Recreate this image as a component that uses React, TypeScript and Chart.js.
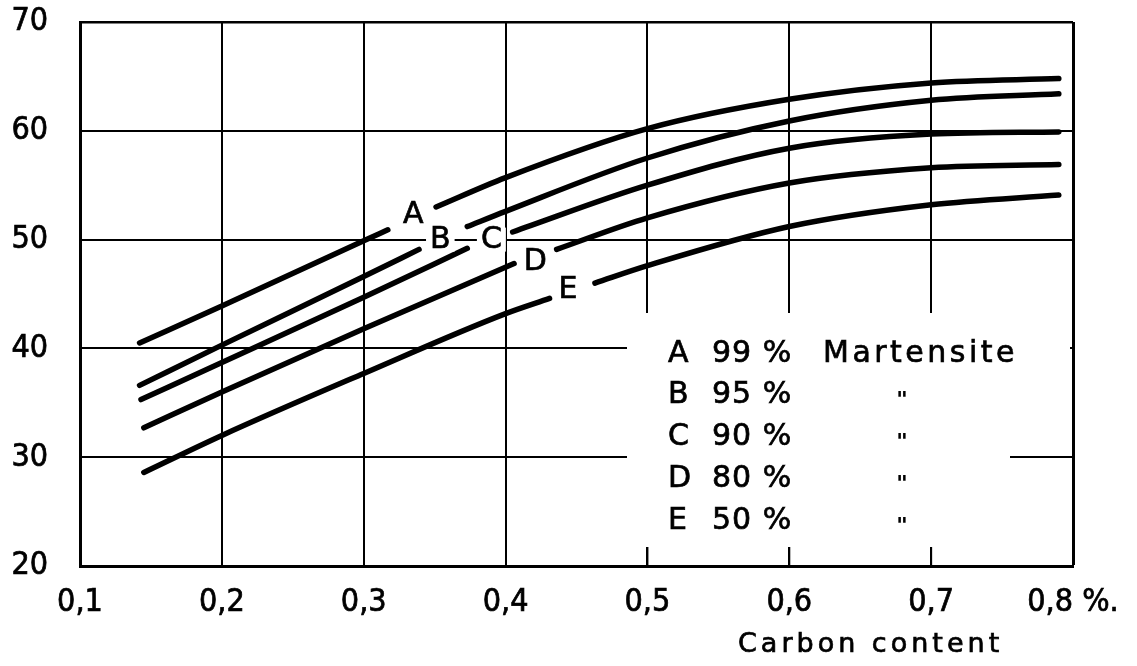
import React, { useEffect, useRef } from "react";
import { Chart, registerables } from "chart.js";

Chart.register(...registerables);

// ---- axis ticks ----
const xTicks = [0.1, 0.2, 0.3, 0.4, 0.5, 0.6, 0.7, 0.8];
const xTickLabels = ["0,1", "0,2", "0,3", "0,4", "0,5", "0,6", "0,7", "0,8 %."];
const yTicks = [20, 30, 40, 50, 60, 70];
const yTickLabels = ["20", "30", "40", "50", "60", "70"];

// ---- curves (null = gap where the letter sits) ----
const curveA_x = [0.142, 0.2, 0.3, 0.317, 0.334, 0.351, 0.4, 0.5, 0.6, 0.7, 0.79];
const curveA_y = [40.5, 43.9, 49.9, 50.9, null, 53.0, 55.7, 60.2, 62.9, 64.4, 64.8];
const curveB_x = [0.142, 0.2, 0.3, 0.339, 0.356, 0.373, 0.4, 0.5, 0.6, 0.7, 0.79];
const curveB_y = [36.6, 40.3, 46.6, 49.1, null, 51.2, 52.6, 57.5, 60.9, 62.8, 63.4];
const curveC_x = [0.143, 0.2, 0.3, 0.373, 0.389, 0.405, 0.5, 0.6, 0.7, 0.79];
const curveC_y = [35.3, 38.7, 44.7, 49.2, null, 50.7, 55.0, 58.4, 59.7, 59.9];
const curveD_x = [0.145, 0.2, 0.3, 0.406, 0.42, 0.436, 0.5, 0.6, 0.7, 0.79];
const curveD_y = [32.7, 36.0, 41.8, 47.8, null, 49.1, 52.0, 55.2, 56.6, 56.9];
const curveE_x = [0.145, 0.2, 0.3, 0.4, 0.431, 0.447, 0.463, 0.5, 0.6, 0.7, 0.79];
const curveE_y = [28.6, 32.0, 37.7, 43.2, 44.6, null, 46.0, 47.6, 51.2, 53.2, 54.1];

// ---- curve letters ----
const curveLetters = ["A", "B", "C", "D", "E"];
const letterX = [0.335, 0.354, 0.39, 0.421, 0.444];
const letterY = [52.3, 50.0, 50.0, 48.0, 45.4];

// ---- legend text ----
const legendPct = ["99 %", "95 %", "90 %", "80 %", "50 %"];
const legendPhase = ["Martensite", "\"", "\"", "\"", "\""];
const axisTitle = "Carbon content";

const TICK_FONT = '"DejaVu Sans Condensed", "DejaVu Sans", sans-serif';
const TEXT_FONT = '"DejaVu Sans", sans-serif';
const INK = "#000";
const TEXT_STROKE = 0.7;

const toPoints = (xs: number[], ys: (number | null)[]) =>
  xs.map((x, i) => ({ x, y: ys[i] }));

const curves = [
  toPoints(curveA_x, curveA_y),
  toPoints(curveB_x, curveB_y),
  toPoints(curveC_x, curveC_y),
  toPoints(curveD_x, curveD_y),
  toPoints(curveE_x, curveE_y),
];

function inkText(ctx: CanvasRenderingContext2D, t: string, x: number, y: number) {
  ctx.fillText(t, x, y);
  ctx.strokeText(t, x, y);
}

const decorPlugin = {
  id: "decor",
  beforeDatasetsDraw(chart: any) {
    const { ctx, chartArea: a, scales } = chart;
    const xs = scales.x;
    // white legend field that interrupts the grid
    const left = 627;
    const yTop = 313;
    const yMid = 420;
    const yBot = 547;
    ctx.save();
    ctx.fillStyle = "#fff";
    ctx.fillRect(left, yTop, a.right - 3 - left, yMid - yTop);
    ctx.fillRect(left, yMid, 1010 - left, yBot - yMid);
    // remaining short tick stubs at the bottom
    ctx.strokeStyle = "#000";
    ctx.lineWidth = 2;
    for (const v of xTicks) {
      const px = xs.getPixelForValue(v);
      if (px > left && px < 1010) {
        ctx.beginPath();
        ctx.moveTo(px, yBot);
        ctx.lineTo(px, a.bottom);
        ctx.stroke();
      }
    }
    ctx.restore();
  },
  afterDatasetsDraw(chart: any) {
    const { ctx, scales } = chart;
    const xs = scales.x;
    const ys = scales.y;
    ctx.save();
    ctx.strokeStyle = INK;
    ctx.lineWidth = TEXT_STROKE;
    // curve letters with white background
    ctx.font = `30px ${TEXT_FONT}`;
    ctx.textAlign = "center";
    ctx.textBaseline = "middle";
    curveLetters.forEach((t, i) => {
      const px = xs.getPixelForValue(letterX[i]);
      const py = ys.getPixelForValue(letterY[i]);
      const w = ctx.measureText(t).width;
      ctx.fillStyle = "#fff";
      ctx.fillRect(px - w / 2 - 4, py - 12, w + 8, 24);
      ctx.fillStyle = INK;
      inkText(ctx, t, px, py + 1);
    });

    // legend block
    ctx.textAlign = "left";
    const rowY0 = 354;
    const rowStep = 41.7;
    curveLetters.forEach((t, i) => {
      const y = rowY0 + i * rowStep;
      ctx.font = `30px ${TEXT_FONT}`;
      ctx.fillStyle = INK;
      (ctx as any).letterSpacing = "0px";
      inkText(ctx, t, 668, y);
      (ctx as any).letterSpacing = "1px";
      inkText(ctx, legendPct[i], 712, y);
      if (i === 0) {
        (ctx as any).letterSpacing = "3.5px";
        inkText(ctx, legendPhase[i], 823, y);
      } else {
        (ctx as any).letterSpacing = "0px";
        ctx.font = `bold italic 22px ${TEXT_FONT}`;
        ctx.textAlign = "center";
        ctx.fillText(legendPhase[i], 902, y + 6);
        ctx.textAlign = "left";
      }
    });

    // axis title
    ctx.font = `27px ${TEXT_FONT}`;
    (ctx as any).letterSpacing = "4px";
    ctx.textBaseline = "middle";
    inkText(ctx, axisTitle, 738, 645);
    ctx.restore();
  },
};

export default function App() {
  const ref = useRef<HTMLCanvasElement | null>(null);

  useEffect(() => {
    if (!ref.current) return;
    const chart = new Chart(ref.current, {
      type: "line",
      data: {
        datasets: curves.map((pts, i) => ({
          label: curveLetters[i],
          data: pts as any,
          borderColor: "#000",
          borderWidth: 5.5,
          borderCapStyle: "round",
          borderJoinStyle: "round",
          pointRadius: 0,
          fill: false,
          spanGaps: false,
          cubicInterpolationMode: "monotone",
        })),
      },
      options: {
        responsive: false,
        animation: false,
        events: [],
        layout: { padding: { left: 0, right: 64, top: 22, bottom: 0 } },
        plugins: {
          legend: { display: false },
          tooltip: { enabled: false },
          title: { display: false },
        },
        scales: {
          x: {
            type: "linear",
            min: 0.1,
            max: 0.8,
            afterBuildTicks: (s: any) => {
              s.ticks = xTicks.map((v) => ({ value: v }));
            },
            afterFit: (s: any) => {
              s.height = 100;
              s.paddingLeft = 0;
              s.paddingRight = 0;
            },
            ticks: {
              autoSkip: false,
              maxRotation: 0,
              padding: 17,
              color: INK,
              textStrokeColor: INK,
              textStrokeWidth: TEXT_STROKE,
              font: { family: TICK_FONT, size: 32 },
              callback: (_v: any, i: number) => xTickLabels[i],
            },
            grid: {
              color: "#000",
              drawTicks: false,
              lineWidth: (c: any) => (c.index === xTicks.length - 1 ? 3 : 2),
            },
            border: { display: true, color: "#000", width: 3 },
          },
          y: {
            type: "linear",
            min: 20,
            max: 70,
            afterBuildTicks: (s: any) => {
              s.ticks = yTicks.map((v) => ({ value: v }));
            },
            afterFit: (s: any) => {
              s.width = 80;
              s.paddingTop = 0;
              s.paddingBottom = 0;
            },
            ticks: {
              padding: 32,
              color: INK,
              textStrokeColor: INK,
              textStrokeWidth: TEXT_STROKE,
              font: { family: TICK_FONT, size: 32 },
              callback: (_v: any, i: number) => yTickLabels[i],
            },
            grid: {
              color: "#000",
              drawTicks: false,
              lineWidth: (c: any) => (c.index === yTicks.length - 1 ? 2.5 : 2),
            },
            border: { display: true, color: "#000", width: 3 },
          },
        },
      },
      plugins: [decorPlugin],
    } as any);
    return () => chart.destroy();
  }, []);

  return (
    <canvas
      ref={ref}
      width={1137}
      height={666}
      style={{ position: "absolute", left: 0, top: 0, display: "block", background: "#fff" }}
    />
  );
}
